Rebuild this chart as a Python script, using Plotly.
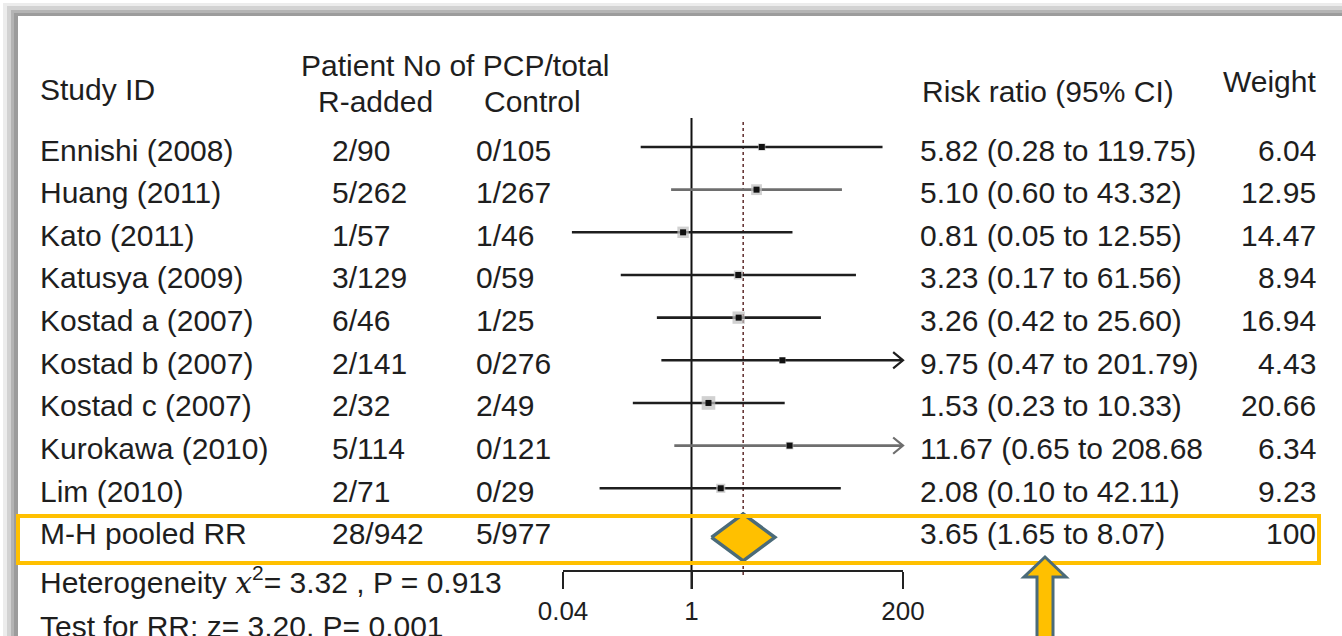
import numpy as np
import plotly.graph_objects as go

# ---------------- data ----------------
studies = ["Ennishi (2008)", "Huang (2011)", "Kato (2011)", "Katusya (2009)",
           "Kostad a (2007)", "Kostad b (2007)", "Kostad c (2007)",
           "Kurokawa (2010)", "Lim (2010)"]
r_added = ["2/90", "5/262", "1/57", "3/129", "6/46", "2/141", "2/32", "5/114", "2/71"]
control = ["0/105", "1/267", "1/46", "0/59", "1/25", "0/276", "2/49", "0/121", "0/29"]
rr = [5.82, 5.10, 0.81, 3.23, 3.26, 9.75, 1.53, 11.67, 2.08]
ci_low = [0.28, 0.60, 0.05, 0.17, 0.42, 0.47, 0.23, 0.65, 0.10]
ci_high = [119.75, 43.32, 12.55, 61.56, 25.60, 201.79, 10.33, 208.68, 42.11]
rr_labels = ["5.82 (0.28 to 119.75)", "5.10 (0.60 to 43.32)", "0.81 (0.05 to 12.55)",
             "3.23 (0.17 to 61.56)", "3.26 (0.42 to 25.60)", "9.75 (0.47 to 201.79)",
             "1.53 (0.23 to 10.33)", "11.67 (0.65 to 208.68", "2.08 (0.10 to 42.11)"]
weights = [6.04, 12.95, 14.47, 8.94, 16.94, 4.43, 20.66, 6.34, 9.23]

pooled_label = "M-H pooled RR"
pooled_r_added = "28/942"
pooled_control = "5/977"
pooled_rr = 3.65
pooled_low = 1.65
pooled_high = 8.07
pooled_rr_label = "3.65 (1.65 to 8.07)"
pooled_weight = "100"

tick_vals = [0.04, 1, 200]
tick_text = ["0.04", "1", "200"]
null_value = 1
heterogeneity_text = ("Heterogeneity <span style='font-family:DejaVu Serif'><i>x</i></span>"
                      "<sup>2</sup>= 3.32 , P = 0.913")
test_text = "Test for RR: z= 3.20, P= 0.001"

# ---------------- geometry (pixels) ----------------
W, H = 1342, 636
AX_L, AX_R = 563, 903
AX_MIN, AX_MAX = tick_vals[0], tick_vals[-1]
scale = (AX_R - AX_L) / np.log10(AX_MAX / AX_MIN)
x_one = AX_L - np.log10(AX_MIN) * scale
x_range = [-x_one / scale, (W - x_one) / scale]
ROW0, ROWH = 147, 42.66
y_range = [(H - ROW0) / ROWH, (0 - ROW0) / ROWH]

FONT = "Liberation Sans, Arial, sans-serif"
TXT = "#1e1e1e"
FS = 30
YELLOW = "#FFC000"
SLATE = "#4B6B79"


def px(p):
    return p / W


def py(p):
    return 1 - p / H


line_colors = ["#1e1e1e", "#6e6e6e", "#1e1e1e", "#1e1e1e", "#1e1e1e",
               "#1e1e1e", "#1e1e1e", "#6e6e6e", "#1e1e1e"]

fig = go.Figure()

n = len(studies)
for i in range(n):
    hi_clip = min(ci_high[i], AX_MAX)
    fig.add_trace(go.Scatter(x=[ci_low[i], hi_clip], y=[i, i], mode="lines",
                             line=dict(color=line_colors[i], width=2.6),
                             hoverinfo="skip", showlegend=False))
    if ci_high[i] > AX_MAX:
        k = 1.28
        fig.add_trace(go.Scatter(x=[AX_MAX / k, AX_MAX, AX_MAX / k],
                                 y=[i - 0.19, i, i + 0.19], mode="lines",
                                 line=dict(color=line_colors[i], width=2.2),
                                 hoverinfo="skip", showlegend=False))

# weight boxes
fig.add_trace(go.Scatter(x=rr, y=list(range(n)), mode="markers",
                         marker=dict(symbol="square", color="#bdbdbd",
                                     size=[3.0 * np.sqrt(w) for w in weights],
                                     line=dict(width=0)),
                         hoverinfo="skip", showlegend=False))
# point estimates
fig.add_trace(go.Scatter(x=rr, y=list(range(n)), mode="markers",
                         marker=dict(symbol="square", color="#111111", size=6),
                         hoverinfo="skip", showlegend=False))

# pooled diamond
dy = 0.55
yc = n + 0.15
fig.add_trace(go.Scatter(x=[pooled_low, pooled_rr, pooled_high, pooled_rr, pooled_low],
                         y=[yc, yc - dy, yc, yc + dy, yc], mode="lines",
                         fill="toself", fillcolor=YELLOW,
                         line=dict(color=SLATE, width=3.5),
                         hoverinfo="skip", showlegend=False))

# invisible trace for bottom scale axis
fig.add_trace(go.Scatter(x=tick_vals, y=[None] * len(tick_vals), xaxis="x2", yaxis="y",
                         mode="markers", marker=dict(opacity=0),
                         hoverinfo="skip", showlegend=False))

shapes = []
# slide shadow frame
for (x0, y0, col) in [(3, 3, "#ececec"), (7, 6, "#d2d2d2"), (11, 10, "#b4b4b4"),
                      (14, 13, "#9c9c9c")]:
    shapes.append(dict(type="rect", xref="paper", yref="paper", x0=px(x0), x1=1.01,
                       y0=-0.01, y1=py(y0), fillcolor=col, line=dict(width=0), layer="below"))
shapes.append(dict(type="rect", xref="paper", yref="paper", x0=px(18), x1=1.01,
                   y0=-0.01, y1=py(16), fillcolor="white", line=dict(width=0), layer="below"))

# null line and pooled line
shapes.append(dict(type="line", xref="x", yref="paper", x0=null_value, x1=null_value,
                   y0=py(589), y1=py(118), line=dict(color="#111111", width=2), layer="below"))
shapes.append(dict(type="line", xref="x", yref="paper", x0=pooled_rr, x1=pooled_rr,
                   y0=py(575), y1=py(120), line=dict(color="#5e2a2a", width=1.5, dash="3px,3px"),
                   layer="below"))

# highlight rectangle around pooled row
shapes.append(dict(type="rect", xref="paper", yref="paper", x0=px(18), x1=px(1319),
                   y0=py(563), y1=py(516), line=dict(color=YELLOW, width=4),
                   fillcolor="rgba(0,0,0,0)", layer="above"))

# up arrow
pts = [(1045, 557), (1066, 577), (1053, 577), (1053, 645), (1037, 645), (1037, 577), (1024, 577)]
path = "M " + " L ".join(f"{px(a):.5f},{py(b):.5f}" for a, b in pts) + " Z"
shapes.append(dict(type="path", xref="paper", yref="paper", path=path,
                   fillcolor=YELLOW, line=dict(color=SLATE, width=3), layer="above"))

annotations = []


def ann(text, xpix, y, yref="y", xanchor="left", size=FS, yshift=0):
    annotations.append(dict(text=text, x=px(xpix), xref="paper", y=y, yref=yref,
                            xanchor=xanchor, yanchor="middle", showarrow=False,
                            font=dict(family=FONT, size=size, color=TXT), yshift=yshift))


# headers
ann("Study ID", 38, py(89), "paper")
ann("Patient No of PCP/total", 455, py(66), "paper", "center")
ann("R-added", 375, py(102), "paper", "center")
ann("Control", 532, py(102), "paper", "center")
ann("Risk ratio (95% CI)", 920, py(92), "paper")
ann("Weight", 1318, py(81), "paper", "right")

for i in range(n):
    ann(studies[i], 38, i, yshift=-3)
    ann(r_added[i], 330, i, yshift=-3)
    ann(control[i], 474, i, yshift=-3)
    ann(rr_labels[i], 918, i, yshift=-3)
    ann(f"{weights[i]:.2f}", 1318, i, xanchor="right", yshift=-3)

ann(pooled_label, 38, n, yshift=-3)
ann(pooled_r_added, 330, n, yshift=-3)
ann(pooled_control, 474, n, yshift=-3)
ann(pooled_rr_label, 918, n, yshift=-3)
ann(pooled_weight, 1318, n, xanchor="right", yshift=-3)

ann(heterogeneity_text, 38, py(580), "paper", size=30)
ann(test_text, 38, py(626), "paper", size=30)

fig.update_layout(
    width=W, height=H,
    margin=dict(l=0, r=0, t=0, b=0, pad=0, autoexpand=False),
    paper_bgcolor="white", plot_bgcolor="rgba(0,0,0,0)",
    xaxis=dict(type="log", range=x_range, domain=[0, 1], visible=False, fixedrange=True,
               automargin=False),
    yaxis=dict(range=y_range, domain=[0, 1], visible=False, fixedrange=True,
               automargin=False),
    xaxis2=dict(type="log", domain=[px(AX_L), px(AX_R)],
                range=[np.log10(AX_MIN), np.log10(AX_MAX)],
                anchor="free", position=py(571), automargin=False,
                tickvals=tick_vals, ticktext=tick_text,
                ticks="outside", ticklen=17, tickwidth=2, tickcolor="#222222",
                showline=True, linewidth=2, linecolor="#222222",
                showgrid=False, zeroline=False,
                tickfont=dict(family=FONT, size=26, color=TXT)),
    shapes=shapes, annotations=annotations,
    showlegend=False,
)

fig.write_html("out.html", config={"displayModeBar": False})
